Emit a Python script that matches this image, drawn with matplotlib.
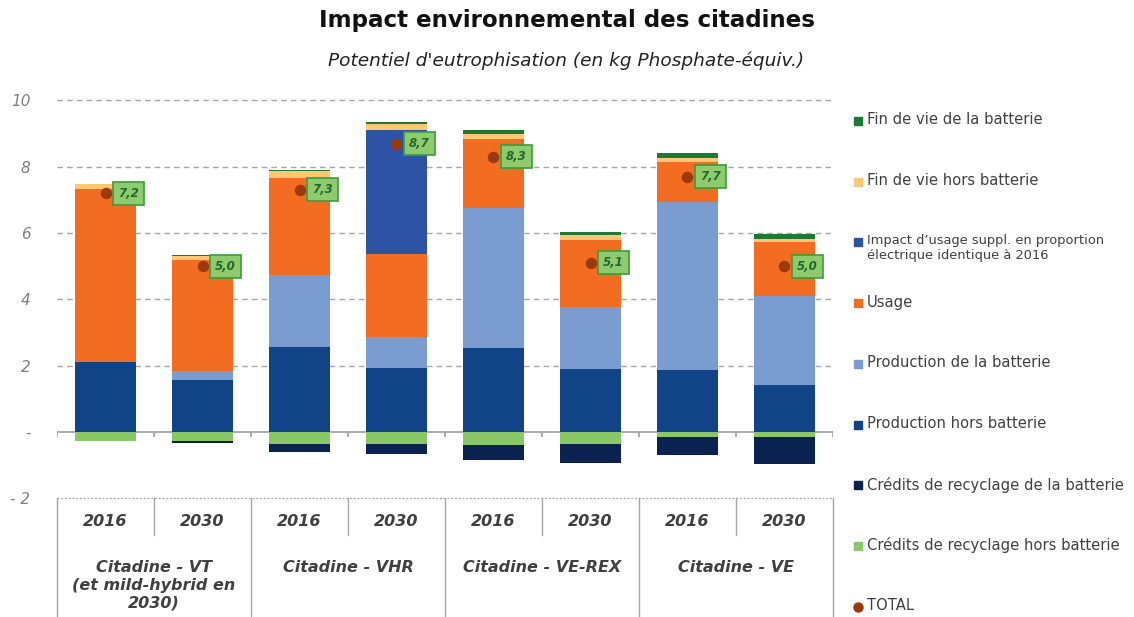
#!/usr/bin/env python3
"""Eutrophication potential of city cars, stacked by life-cycle stage."""

import matplotlib.pyplot as plt
import matplotlib.transforms as mtransforms
import numpy as np

YEARS = ["2016", "2030", "2016", "2030", "2016", "2030", "2016", "2030"]
GROUPS = [
    "Citadine - VT\n(et mild-hybrid en\n2030)",
    "Citadine - VHR",
    "Citadine - VE-REX",
    "Citadine - VE",
]

# positive stages, bottom to top
PROD_HORS_BATT = [2.11, 1.58, 2.56, 1.94, 2.53, 1.90, 1.87, 1.42]
PROD_BATT = [0.00, 0.26, 2.16, 0.91, 4.24, 1.87, 5.07, 2.67]
USAGE = [5.22, 3.34, 2.93, 2.51, 2.06, 2.01, 1.19, 1.63]
IMPACT_SUPPL = [0.00, 0.00, 0.00, 3.76, 0.00, 0.00, 0.00, 0.00]
FDV_HORS_BATT = [0.15, 0.12, 0.21, 0.17, 0.17, 0.16, 0.12, 0.10]
FDV_BATT = [0.00, 0.03, 0.04, 0.06, 0.12, 0.09, 0.15, 0.16]
# negative stages, top to bottom
CREDIT_HORS_BATT = [-0.27, -0.27, -0.36, -0.36, -0.39, -0.37, -0.16, -0.16]
CREDIT_BATT = [0.00, -0.07, -0.23, -0.29, -0.45, -0.58, -0.54, -0.80]
TOTALS = [7.2, 5.0, 7.3, 8.7, 8.3, 5.1, 7.7, 5.0]

POSITIVE = [
    ("Production hors batterie", PROD_HORS_BATT, "#104487"),
    ("Production de la batterie", PROD_BATT, "#7B9CD1"),
    ("Usage", USAGE, "#F26C22"),
    ("Impact d\u2019usage suppl. en proportion\nélectrique identique à 2016",
     IMPACT_SUPPL, "#2E52A4"),
    ("Fin de vie hors batterie", FDV_HORS_BATT, "#FFC774"),
    ("Fin de vie de la batterie", FDV_BATT, "#1D7A35"),
]
NEGATIVE = [
    ("Crédits de recyclage hors batterie", CREDIT_HORS_BATT, "#8AC867"),
    ("Crédits de recyclage de la batterie", CREDIT_BATT, "#0B214F"),
]
TOTAL_COLOR = "#9A3A0E"
GRID = "#A6A6A6"
TEXT = "#404040"

W, H = 1134, 617
fig = plt.figure(figsize=(W / 100, H / 100), dpi=100)
ax = fig.add_axes([57 / W, 1 - 498.3 / H, (833 - 57) / W, (498.3 - 100.4) / H])

x = np.arange(len(YEARS))
width = 0.62

for y in (2, 4, 6, 8, 10):
    ax.axhline(y, color=GRID, lw=1.0, ls=(0, (4, 3)), zorder=0, clip_on=False)
ax.axhline(-2, color=GRID, lw=0.9, ls=(0, (1.5, 1.5)), zorder=0, clip_on=False)
ax.axhline(0, color=GRID, lw=1.3, zorder=1)
ax.vlines(np.arange(-0.5, len(YEARS)), -0.16, 0, color=GRID, lw=1.3, zorder=1)

bottom = np.zeros(len(YEARS))
for name, values, color in POSITIVE:
    ax.bar(x, values, width, bottom=bottom, color=color, zorder=2)
    bottom += np.array(values)
bottom = np.zeros(len(YEARS))
for name, values, color in NEGATIVE:
    ax.bar(x, values, width, bottom=bottom, color=color, zorder=2)
    bottom += np.array(values)

ax.scatter(x, TOTALS, s=52, color=TOTAL_COLOR, zorder=4)
for xi, total in zip(x, TOTALS):
    ax.annotate(
        f"{total:.1f}".replace(".", ","),
        (xi, total),
        xytext=(16.5, 0),
        textcoords="offset points",
        ha="center",
        va="center",
        fontsize=8.5,
        fontweight="bold",
        fontstyle="italic",
        color="#1F6A2A",
        bbox=dict(boxstyle="square,pad=0.42", fc="#8FCB6E", ec="#3A9B3C", lw=1.2),
        zorder=5,
    )

ax.set_xlim(-0.5, len(YEARS) - 0.5)
ax.set_ylim(-2, 10)
ax.set_yticks([-2, 0, 2, 4, 6, 8, 10])
ax.set_yticklabels(["- 2", "-", "2", "4", "6", "8", "10"])
ax.tick_params(axis="y", length=0, pad=19, labelsize=11, labelcolor="#7F7F7F")
for label in ax.get_yticklabels():
    label.set_fontstyle("italic")
ax.set_xticks([])
for spine in ax.spines.values():
    spine.set_visible(False)

# two-level category axis below the plot
blend = mtransforms.blended_transform_factory(ax.transData, ax.transAxes)
bottom_frac = -(H - 498.3) / (498.3 - 100.4)
inner_frac = -(535 - 498.3) / (498.3 - 100.4)
for i, year in enumerate(YEARS):
    ax.text(i, -0.059, year, transform=blend, ha="center", va="center",
            fontsize=11.5, fontweight="bold", fontstyle="italic", color=TEXT)
    if i % 2 == 1:
        ax.plot([i - 0.5, i - 0.5], [0, inner_frac], transform=blend,
                color=GRID, lw=1.0, clip_on=False)
for g, group in enumerate(GROUPS):
    ax.text(2 * g + 0.5, -0.155, group, transform=blend, ha="center", va="top",
            fontsize=11.5, fontweight="bold", fontstyle="italic", color=TEXT,
            linespacing=1.25)
    ax.plot([2 * g - 0.5, 2 * g - 0.5], [0, bottom_frac], transform=blend,
            color=GRID, lw=1.0, clip_on=False)
ax.plot([len(YEARS) - 0.5] * 2, [0, bottom_frac], transform=blend,
        color=GRID, lw=1.0, clip_on=False)

fig.text(567 / W, 1 - 21 / H, "Impact environnemental des citadines",
         ha="center", va="center", fontsize=16.6, fontweight="bold", color="#111111")
fig.text(566 / W, 1 - 61 / H,
         "Potentiel d'eutrophisation (en kg Phosphate-équiv.)",
         ha="center", va="center", fontsize=13.3, fontstyle="italic", color="#222222")

# legend on the right, top entry first
legend_items = [(n, c, "s") for n, _, c in reversed(POSITIVE)]
legend_items += [(n, c, "s") for n, _, c in reversed(NEGATIVE)]
legend_items.append(("TOTAL", TOTAL_COLOR, "o"))
for i, (name, color, marker) in enumerate(legend_items):
    yc = 121 + i * 60.7
    fig.lines.append(plt.Line2D([858 / W], [1 - yc / H], marker=marker,
                                color=color, markersize=6 if marker == "s" else 6.5,
                                ls="none", transform=fig.transFigure))
    multi = "\n" in name
    fig.text(867 / W, 1 - (yc - 8.5) / H, name, ha="left", va="top",
             fontsize=9.4 if multi else 10.6, color=TEXT,
             linespacing=1.25 if multi else 1.05)

fig.savefig("out.png", dpi=100)
